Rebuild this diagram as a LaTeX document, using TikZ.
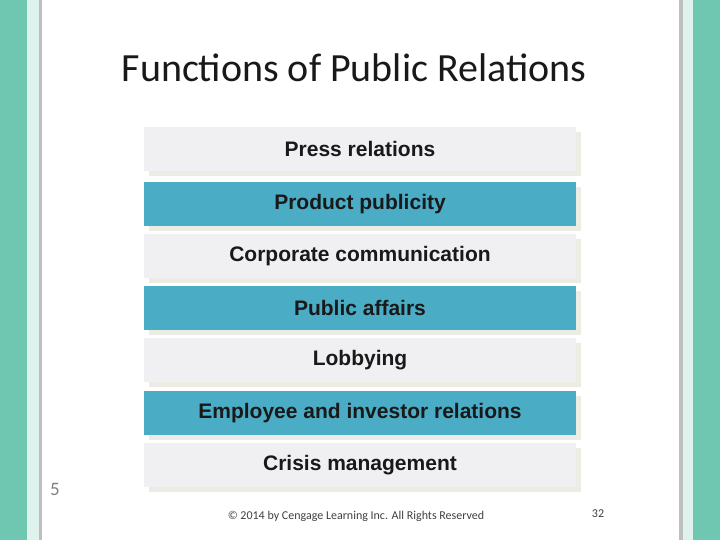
\documentclass[tikz,border=0pt]{standalone}
\usepackage{fontspec}
\setmainfont{Carlito}
\newfontfamily\arialb{Liberation Sans}
\definecolor{teal}{HTML}{6FC6B1}
\definecolor{pale}{HTML}{E0F2EE}
\definecolor{graybox}{HTML}{F0F0F2}
\definecolor{bluebox}{HTML}{4BACC6}
\definecolor{shad}{HTML}{ECECE4}
\begin{document}
\begin{tikzpicture}[x=1pt,y=-1pt,
  item/.style={minimum width=432pt,minimum height=44pt,inner sep=0pt,font=\arialb\fontsize{21}{24}\selectfont\bfseries,text=black!90},
  g/.style={item,fill=graybox},
  b/.style={item,fill=bluebox}]
\useasboundingbox (0,0) rectangle (720,540);
\fill[white] (0,0) rectangle (720,540);
\fill[teal] (0,0) rectangle (27,540);
\fill[pale] (27,0) rectangle (39,540);
\fill[gray!50] (39,0) rectangle (42,540);
\fill[gray!50] (679,0) rectangle (683,540);
\fill[pale] (683,0) rectangle (693,540);
\fill[teal] (693,0) rectangle (720,540);
\node[font=\fontsize{40}{46}\selectfont,text=black!90] (title) at (354,68) {Functions of Public Relations};
\foreach \n/\yy/\st/\t in {a/149/g/Press relations,b/204/b/Product publicity,c/256/g/Corporate communication,d/308/b/Public affairs,e/360/g/Lobbying,f/413/b/Employee and investor relations,h/465/g/Crisis management}{
  \fill[shad] (149,\yy-17) rectangle (581,\yy+27);
  \node[\st] (\n) at (360,\yy) {\t};
}
\node[font=\fontsize{19}{22}\selectfont,text=gray] (num) at (55,489) {5};
\node[font=\fontsize{12}{14}\selectfont,text=black!75] (foot) at (356,516) {© 2014 by Cengage Learning Inc. All Rights Reserved};
\node[font=\fontsize{12}{14}\selectfont,text=black!75] (pg) at (598,514) {32};
\end{tikzpicture}
\end{document}
